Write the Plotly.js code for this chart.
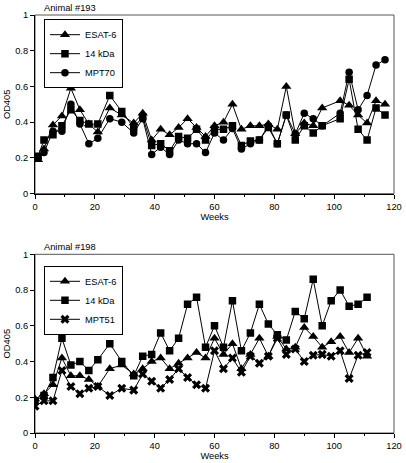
<!DOCTYPE html>
<html>
<head>
<meta charset="utf-8">
<script src="https://cdn.plot.ly/plotly-3.0.1.min.js"></script>
<style>html,body{margin:0;padding:0;background:#fff;}#chart{width:406px;height:463px;}</style>
</head>
<body>
<div id="chart"></div>
<script>
// ---- Animal #193 ----
var weeks193 = [1,3,6,9,12,15,18,21,25,29,33,36,39,42,45,48,51,54,57,60,63,66,69,72,75,78,81,84,87,90,93,96,102,105,108,111,114,117];
var esat193 = [0.19,0.25,0.385,0.435,0.59,0.47,0.39,0.345,0.48,0.44,0.395,0.45,0.30,0.36,0.33,0.37,0.42,0.37,0.32,0.38,0.40,0.50,0.36,0.38,0.38,0.39,0.36,0.60,0.335,0.395,0.38,0.48,0.52,0.495,0.44,0.395,0.52,0.50];
var kda193 = [0.21,0.30,0.33,0.38,0.47,0.41,0.39,0.39,0.55,0.46,0.37,0.43,0.27,0.28,0.24,0.32,0.31,0.36,0.30,0.36,0.36,0.38,0.27,0.295,0.30,0.37,0.28,0.44,0.30,0.38,0.34,0.38,0.42,0.64,0.36,0.30,0.48,0.44];
var mpt70 = [0.20,0.23,0.35,0.35,0.50,0.39,0.28,0.31,0.42,0.40,0.34,0.42,0.22,0.26,0.22,0.30,0.28,0.28,0.23,0.34,0.30,0.365,0.25,0.28,0.30,0.38,0.28,0.44,0.335,0.45,0.42,0.38,0.45,0.68,0.47,0.55,0.72,0.75];

// ---- Animal #198 ----
var weeks198 = [0,3,6,9,12,15,18,21,25,29,33,36,39,42,45,48,51,54,57,60,63,66,69,72,75,78,81,84,87,90,93,96,99,102,105,108,111];
var esat198 = [0.19,0.22,0.27,0.42,0.32,0.32,0.30,0.26,0.36,0.38,0.33,0.36,0.40,0.42,0.36,0.39,0.42,0.45,0.42,0.53,0.44,0.50,0.36,0.44,0.53,0.43,0.54,0.47,0.48,0.59,0.54,0.48,0.51,0.54,0.45,0.53,0.43];
var kda198 = [0.18,0.21,0.31,0.53,0.38,0.40,0.35,0.41,0.50,0.40,0.32,0.43,0.44,0.56,0.46,0.53,0.72,0.76,0.48,0.60,0.48,0.74,0.46,0.56,0.72,0.61,0.55,0.52,0.68,0.64,0.86,0.60,0.74,0.80,0.71,0.72,0.76];
var mpt51 = [0.15,0.18,0.18,0.35,0.26,0.22,0.25,0.26,0.21,0.25,0.24,0.33,0.29,0.25,0.30,0.36,0.31,0.27,0.25,0.46,0.36,0.42,0.34,0.43,0.39,0.43,0.53,0.44,0.47,0.40,0.435,0.44,0.43,0.46,0.305,0.435,0.45];

var names193 = ['ESAT-6','14 kDa','MPT70'];
var names198 = ['ESAT-6','14 kDa','MPT51'];
var titles = ['Animal #193','Animal #198'];
var xTicks = [0,20,40,60,80,100,120];
var yTicks = [0,0.2,0.4,0.6,0.8,1];

var FONT = 'Liberation Sans, Arial, sans-serif';
var FS = 9.3;

function tr(x, y, name, sym, size, xa, ya, leg) {
  return {
    x: x, y: y, name: name, type: 'scatter', mode: 'lines+markers',
    xaxis: xa, yaxis: ya, legend: leg,
    line: {color: 'black', width: 1},
    marker: {symbol: sym, size: size, color: 'black', line: {width: 0}}
  };
}

var data = [
  tr(weeks193, esat193, names193[0], 'triangle-up', 9, 'x', 'y', 'legend'),
  tr(weeks193, kda193, names193[1], 'square', 7.5, 'x', 'y', 'legend'),
  tr(weeks193, mpt70, names193[2], 'circle', 7.5, 'x', 'y', 'legend'),
  tr(weeks198, esat198, names198[0], 'triangle-up', 9, 'x2', 'y2', 'legend2'),
  tr(weeks198, kda198, names198[1], 'square', 7.5, 'x2', 'y2', 'legend2'),
  tr(weeks198, mpt51, names198[2], 'x', 8, 'x2', 'y2', 'legend2')
];

function xax(anchor) {
  return {
    anchor: anchor, range: [0, 120], tickvals: xTicks, ticktext: xTicks.map(String),
    showgrid: false, zeroline: false, showline: true, linecolor: 'black', linewidth: 1,
    ticks: 'outside', ticklen: 4, tickcolor: 'black', tickwidth: 1,
    minor: {dtick: 10, tick0: 0, ticks: 'outside', ticklen: 2, tickcolor: 'black', showgrid: false},
    tickfont: {family: FONT, size: FS, color: 'black'},
    title: {text: 'Weeks', font: {family: FONT, size: FS, color: 'black'}, standoff: 2},
    automargin: false, fixedrange: true
  };
}
function yax(anchor, domain) {
  return {
    anchor: anchor, domain: domain, range: [0, 1], tickvals: yTicks, ticktext: yTicks.map(String),
    showgrid: false, zeroline: false, showline: true, linecolor: 'black', linewidth: 1,
    ticks: 'outside', ticklen: 4, tickcolor: 'black', tickwidth: 1,
    tickfont: {family: FONT, size: FS, color: 'black'},
    title: {text: 'OD405', font: {family: FONT, size: FS, color: 'black'}, standoff: 2},
    automargin: false, fixedrange: true
  };
}
function legendCfg(y) {
  return {
    x: 0.025, y: y, xanchor: 'left', yanchor: 'top', xref: 'paper', yref: 'paper',
    bordercolor: 'black', borderwidth: 1, bgcolor: 'white',
    font: {family: FONT, size: FS, color: 'black'}, itemwidth: 30,
    tracegroupgap: 0
  };
}

var layout = {
  width: 406, height: 463,
  margin: {l: 35, r: 12, t: 15, b: 30, pad: 0},
  paper_bgcolor: 'white', plot_bgcolor: 'white',
  showlegend: true,
  font: {family: FONT, size: FS, color: 'black'},
  xaxis: xax('y'),
  yaxis: yax('x', [0.5725, 1]),
  xaxis2: xax('y2'),
  yaxis2: yax('x2', [0, 0.4275]),
  legend: legendCfg(0.99),
  legend2: legendCfg(0.40),
  shapes: [
    {type: 'rect', xref: 'x domain', yref: 'y domain', x0: 0, x1: 1, y0: 0, y1: 1, line: {color: '#555', width: 1}, layer: 'below'},
    {type: 'rect', xref: 'x2 domain', yref: 'y2 domain', x0: 0, x1: 1, y0: 0, y1: 1, line: {color: '#555', width: 1}, layer: 'below'}
  ],
  annotations: [
    {text: titles[0], xref: 'x domain', yref: 'y domain', x: 0.02, y: 1, xanchor: 'left', yanchor: 'bottom', showarrow: false, font: {family: FONT, size: FS, color: 'black'}, yshift: 0},
    {text: titles[1], xref: 'x2 domain', yref: 'y2 domain', x: 0.02, y: 1, xanchor: 'left', yanchor: 'bottom', showarrow: false, font: {family: FONT, size: FS, color: 'black'}, yshift: 0}
  ]
};

Plotly.newPlot('chart', data, layout, {staticPlot: true, displayModeBar: false});
</script>
</body>
</html>
